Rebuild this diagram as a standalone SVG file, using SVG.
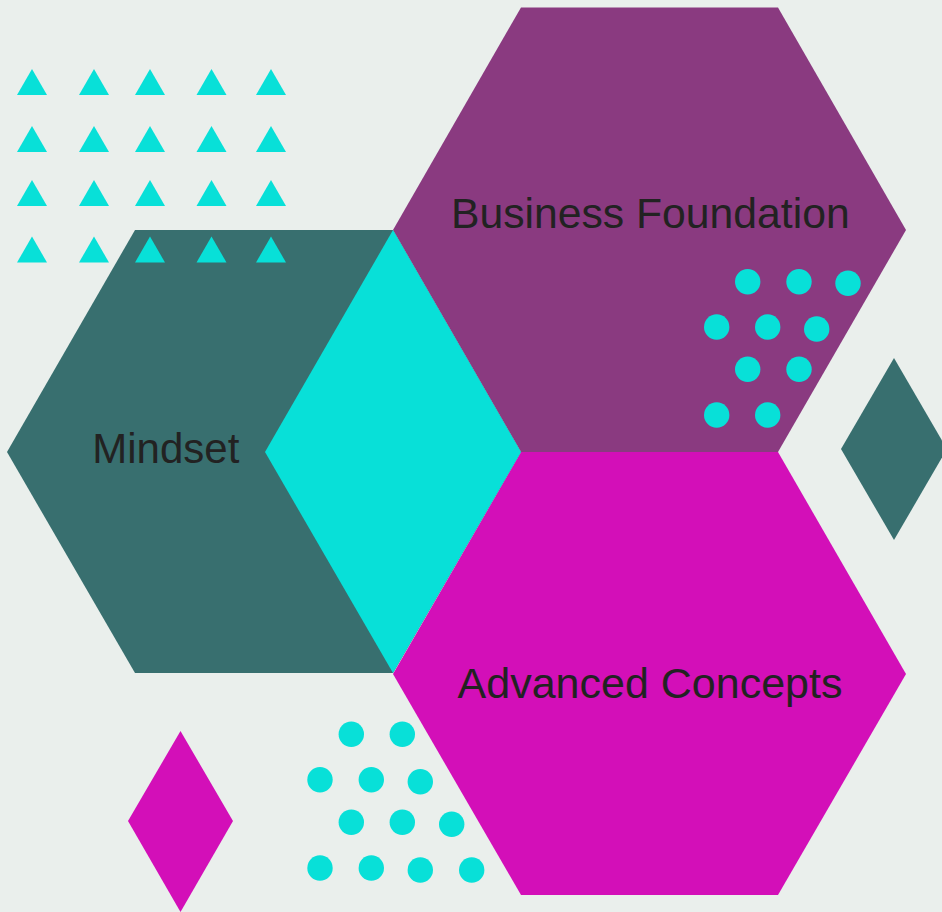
<svg xmlns="http://www.w3.org/2000/svg" xmlns:xlink="http://www.w3.org/1999/xlink" width="942" height="912" viewBox="0 0 942 912">
<style>
.teal{fill:#386F6F}
.purple{fill:#8A3A80}
.magenta{fill:#D30FB8}
.cyan{fill:#08E0D8}
.label{font-family:"Liberation Sans",Arial,sans-serif;font-size:42px;fill:#222222;text-anchor:middle}
</style>
<defs>
<path id="tri" d="M0,0 L15,26 L-15,26 Z" class="cyan"/>
<circle id="dot" r="12.7" class="cyan"/>
</defs>
<rect x="0" y="0" width="942" height="912" fill="#EAEFEC"/>
<g id="node-mindset">
<polygon class="teal" points="7,452 135,230 393,230 521,452 393,673 135,673"/>
</g>
<g id="node-business-foundation">
<polygon class="purple" points="393,230 521,7.5 778,7.5 906,230 778,452 521,452"/>
</g>
<g id="node-advanced-concepts">
<polygon class="magenta" points="393,674 521,452 778,452 906,674 778,895 521,895"/>
</g>
<g id="center-diamond">
<polygon class="cyan" points="393,230 521,452 393,673 265,452"/>
</g>
<g id="deco-diamonds">
<polygon class="teal" points="894,358 947,449 894,540 841,449"/>
<polygon class="magenta" points="180.5,731 233,821 180.5,912 128,821"/>
</g>
<g id="deco-triangles">
<use xlink:href="#tri" x="32" y="69"/><use xlink:href="#tri" x="94" y="69"/><use xlink:href="#tri" x="150" y="69"/><use xlink:href="#tri" x="211.5" y="69"/><use xlink:href="#tri" x="271" y="69"/>
<use xlink:href="#tri" x="32" y="126"/><use xlink:href="#tri" x="94" y="126"/><use xlink:href="#tri" x="150" y="126"/><use xlink:href="#tri" x="211.5" y="126"/><use xlink:href="#tri" x="271" y="126"/>
<use xlink:href="#tri" x="32" y="180"/><use xlink:href="#tri" x="94" y="180"/><use xlink:href="#tri" x="150" y="180"/><use xlink:href="#tri" x="211.5" y="180"/><use xlink:href="#tri" x="271" y="180"/>
<use xlink:href="#tri" x="32" y="236.5"/><use xlink:href="#tri" x="94" y="236.5"/><use xlink:href="#tri" x="150" y="236.5"/><use xlink:href="#tri" x="211.5" y="236.5"/><use xlink:href="#tri" x="271" y="236.5"/>
</g>
<g id="deco-dots-top">
<use xlink:href="#dot" x="747.7" y="281.7"/><use xlink:href="#dot" x="799" y="281.7"/><use xlink:href="#dot" x="848" y="283.3"/>
<use xlink:href="#dot" x="716.7" y="327"/><use xlink:href="#dot" x="767.7" y="327"/><use xlink:href="#dot" x="816.7" y="329"/>
<use xlink:href="#dot" x="747.7" y="369.3"/><use xlink:href="#dot" x="799" y="369.3"/>
<use xlink:href="#dot" x="716.7" y="415"/><use xlink:href="#dot" x="767.7" y="415"/>
</g>
<g id="deco-dots-bottom">
<use xlink:href="#dot" x="351.3" y="734.3"/><use xlink:href="#dot" x="402.3" y="734.3"/>
<use xlink:href="#dot" x="320" y="779.7"/><use xlink:href="#dot" x="371.3" y="779.7"/><use xlink:href="#dot" x="420.3" y="781.7"/>
<use xlink:href="#dot" x="351.3" y="822.3"/><use xlink:href="#dot" x="402.3" y="822.3"/><use xlink:href="#dot" x="451.7" y="824.3"/>
<use xlink:href="#dot" x="320" y="868"/><use xlink:href="#dot" x="371.3" y="868"/><use xlink:href="#dot" x="420.3" y="870"/><use xlink:href="#dot" x="471.7" y="870"/>
</g>
<g id="connectors"></g>
<g id="labels">
<text class="label" x="650.3" y="227.7" style="font-size:42.7px">Business Foundation</text>
<text class="label" x="165.8" y="463.3">Mindset</text>
<text class="label" x="650" y="698.3" style="font-size:43px">Advanced Concepts</text>
</g>
</svg>
